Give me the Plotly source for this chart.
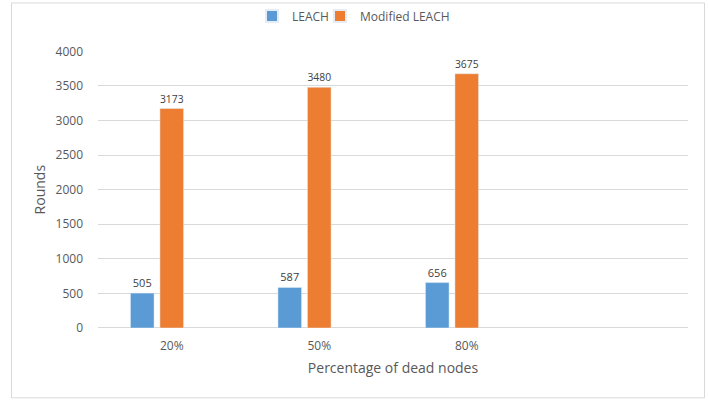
import plotly.graph_objects as go

categories = ["20%", "50%", "80%"]
leach = [505, 587, 656]
modified_leach = [3173, 3480, 3675]
series_names = ["LEACH", "Modified LEACH"]
y_ticks = [0, 500, 1000, 1500, 2000, 2500, 3000, 3500, 4000]

FONT = "'Open Sans', 'Noto Sans', sans-serif"
GREY = "#595959"

fig = go.Figure()
fig.add_trace(go.Bar(name=series_names[0], x=categories, y=leach,
                     marker_color="#5B9BD5", text=leach, textposition="outside",
                     textfont=dict(size=11, color="#404040", family=FONT),
                     cliponaxis=False, legend="legend"))
fig.add_trace(go.Bar(name=series_names[1], x=categories, y=modified_leach,
                     marker_color="#ED7D31", text=modified_leach, textposition="outside",
                     textfont=dict(size=11, color="#404040", family=FONT),
                     cliponaxis=False, legend="legend2"))
# empty third series slot (as in the original chart layout)
fig.add_trace(go.Bar(name="", x=categories, y=[None, None, None],
                     showlegend=False, hoverinfo="skip"))

legend_common = dict(orientation="h", xref="container", yref="container",
                     y=0.96, xanchor="left", yanchor="middle",
                     font=dict(size=12, color=GREY, family=FONT),
                     itemwidth=30, itemsizing="constant",
                     bgcolor="rgba(0,0,0,0)")

fig.update_layout(
    width=708, height=400,
    margin=dict(l=98, r=20, t=47, b=72),
    paper_bgcolor="white", plot_bgcolor="white",
    barmode="group", bargap=0.40, bargroupgap=0.2,
    font=dict(family=FONT, color=GREY, size=12),
    showlegend=True,
    legend=dict(legend_common, x=252 / 708),
    legend2=dict(legend_common, x=320 / 708),
    xaxis=dict(type="category", categoryorder="array", categoryarray=categories,
               range=[-0.5, 3.5], showgrid=False, zeroline=False,
               showline=False, ticks="", ticklabelstandoff=9,
               tickfont=dict(size=12, color=GREY, family=FONT),
               title=dict(text="Percentage of dead nodes",
                          font=dict(size=14, color=GREY, family=FONT), standoff=10)),
    yaxis=dict(range=[0, 4000], tickvals=y_ticks, showgrid=True,
               gridcolor="#D9D9D9", gridwidth=1, zeroline=True,
               zerolinecolor="#D9D9D9", zerolinewidth=1, showline=False,
               ticks="", ticklabelstandoff=14,
               tickfont=dict(size=12, color=GREY, family=FONT),
               title=dict(text="Rounds",
                          font=dict(size=14, color=GREY, family=FONT), standoff=6)),
    shapes=[dict(type="rect", xref="paper", yref="paper",
                 x0=(11.5 - 98) / 590, x1=(704.5 - 98) / 590,
                 y0=(327.5 - 398.3) / 280.5, y1=(327.5 + 2) / 280.5,
                 line=dict(color="#D9D9D9", width=1), fillcolor="rgba(0,0,0,0)",
                 layer="below")],
)

fig.write_html("out.html")
